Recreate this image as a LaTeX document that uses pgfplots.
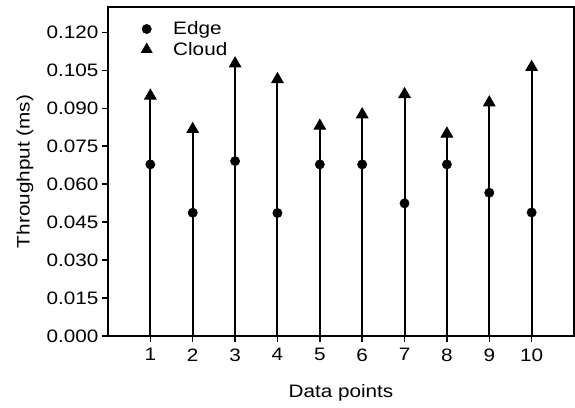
\documentclass[border=0pt]{standalone}
\usepackage{fontspec}
\setmainfont{Liberation Sans}[FakeStretch=1.15]
\usepackage{pgfplots}
\pgfplotsset{compat=1.18}

% edge and cloud throughput per data point
\pgfplotstableread{
x  edge    cloud
1  0.0678  0.0949
2  0.0487  0.0817
3  0.0691  0.1076
4  0.0486  0.1014
5  0.0678  0.0830
6  0.0678  0.0875
7  0.0524  0.0955
8  0.0678  0.0799
9  0.0566  0.0922
10 0.0488  0.1062
}\thrudata

\begin{document}
\begin{tikzpicture}
\begin{axis}[
    scale only axis,
    width=466bp, height=329bp,
    xmin=0, xmax=11,
    ymin=0, ymax=0.13,
    xtick={1,...,10},
    ytick={0,0.015,0.03,0.045,0.06,0.075,0.09,0.105,0.12},
    yticklabel style={/pgf/number format/.cd, fixed, fixed zerofill, precision=3},
    xticklabel style={yshift=-3bp},
    /pgf/number format/assume math mode=true,
    scaled y ticks=false,
    font=\fontsize{18bp}{21bp}\selectfont,
    tick align=outside,
    major tick length=6bp,
    tick style={black, line width=1.4bp},
    axis line style={line width=1.4bp},
    xtick pos=bottom, ytick pos=left,
    xlabel={Data points},
    ylabel={Throughput (ms)},
    every axis x label/.style={at={(axis description cs:0.5,0)}, yshift=-57bp, anchor=center},
    every axis y label/.style={at={(axis description cs:0,0.5)}, xshift=-83bp, rotate=90, anchor=center},
    legend style={draw=none, fill=none, at={(axis description cs:0.058,0.968)}, anchor=north west,
        row sep=2bp, font=\fontsize{18bp}{21bp}\selectfont},
    legend cell align=left,
]
\addlegendimage{black, legend image code/.code={
    \path[draw=none, fill=none] (0bp,-5bp) rectangle (33bp,5bp);
    \path[draw=none, fill=black] plot[mark=*, mark size=4.7bp, mark options={draw=black, fill=black}] coordinates {(8.5bp,0bp)};}}
\addlegendentry{Edge}
\addlegendimage{black, legend image code/.code={
    \path[draw=none, fill=none] (0bp,-5bp) rectangle (33bp,5bp);
    \path[draw=none, fill=black] plot[mark=triangle*, mark size=6.5bp, mark options={draw=black, fill=black}] coordinates {(8.5bp,0bp)};}}
\addlegendentry{Cloud}

\addplot[ycomb, black, line width=2bp, mark=triangle*, mark size=6.5bp, mark options={line width=1bp}, forget plot]
    table[x=x, y=cloud] {\thrudata};
\addplot[only marks, black, mark=*, mark size=4.7bp, forget plot]
    table[x=x, y=edge] {\thrudata};
\end{axis}
\pgfresetboundingbox
\path (current axis.south west) ++(-108bp,-72bp) rectangle ++(575bp,408bp);
\end{tikzpicture}
\end{document}
